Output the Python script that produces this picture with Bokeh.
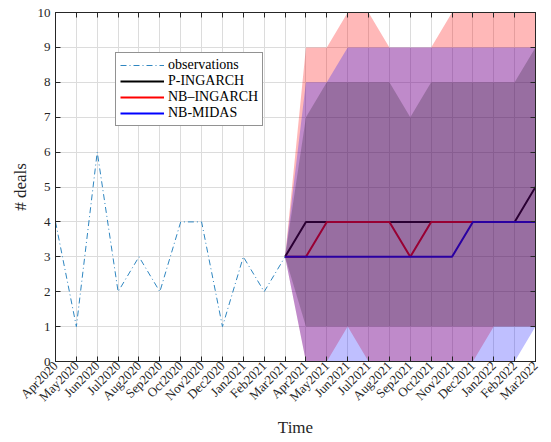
import math
from bokeh.plotting import figure
from bokeh.models import LinearAxis, FixedTicker, Legend, LegendItem, Range1d
from bokeh.embed import file_html
from bokeh.resources import INLINE

months = ["Apr2020", "May2020", "Jun2020", "Jul2020", "Aug2020", "Sep2020",
          "Oct2020", "Nov2020", "Dec2020", "Jan2021", "Feb2021", "Mar2021",
          "Apr2021", "May2021", "Jun2021", "Jul2021", "Aug2021", "Sep2021",
          "Oct2021", "Nov2021", "Dec2021", "Jan2022", "Feb2022", "Mar2022"]
y_ticks = [0, 1, 2, 3, 4, 5, 6, 7, 8, 9, 10]

observations = [4, 1, 6, 2, 3, 2, 4, 4, 1, 3, 2, 3]
forecast_start = 11  # index of Mar2021

p_ingarch = [3, 4, 4, 4, 4, 4, 4, 4, 4, 4, 4, 4, 5]
nb_ingarch = [3, 3, 4, 4, 4, 4, 3, 4, 4, 4, 4, 4, 4]
nb_midas = [3, 3, 3, 3, 3, 3, 3, 3, 3, 4, 4, 4, 4]

p_lo = [3, 1, 1, 1, 1, 1, 1, 1, 1, 1, 1, 1, 1]
p_hi = [3, 7, 8, 8, 8, 8, 7, 8, 8, 8, 8, 8, 9]
nb_lo = [3, 0, 0, 1, 0, 0, 0, 0, 0, 0, 1, 1, 1]
nb_hi = [3, 9, 9, 10, 10, 9, 9, 9, 10, 10, 10, 10, 10]
midas_lo = [3, 0, 0, 0, 0, 0, 0, 0, 0, 0, 0, 0, 1]
midas_hi = [3, 8, 8, 9, 9, 9, 9, 9, 9, 9, 9, 9, 9]

x_obs = list(range(len(observations)))
x_fc = list(range(forecast_start, forecast_start + len(p_ingarch)))

FONT = "Liberation Serif"
AX = "#262626"

p = figure(width=543, height=442, output_backend="svg", toolbar_location=None,
           x_range=Range1d(0, len(months) - 1), y_range=Range1d(0, 10),
           min_border_left=55, min_border_right=8, min_border_top=12,
           min_border_bottom=81, outline_line_color=AX)

# lines (drawn beneath the transparent bands)
r_obs = p.line(x_obs, observations, line_color="#2f86c0", line_width=1,
               line_dash="6 3 1 3")
r_p = p.line(x_fc, p_ingarch, line_color="black", line_width=2)
r_nb = p.line(x_fc, nb_ingarch, line_color="red", line_width=2)
r_md = p.line(x_fc, nb_midas, line_color="blue", line_width=2)

# bands
p.varea(x=x_fc, y1=nb_lo, y2=nb_hi, fill_color="red", fill_alpha=0.28)
p.varea(x=x_fc, y1=midas_lo, y2=midas_hi, fill_color="blue", fill_alpha=0.25)
p.varea(x=x_fc, y1=p_lo, y2=p_hi, fill_color="black", fill_alpha=0.2)

# axes
xt = FixedTicker(ticks=list(range(len(months))))
yt = FixedTicker(ticks=y_ticks)
p.xaxis.ticker = xt
p.yaxis.ticker = yt
p.xgrid.ticker = xt
p.ygrid.ticker = yt
p.xaxis.major_label_overrides = {i: m for i, m in enumerate(months)}
p.xaxis.major_label_orientation = math.pi / 4
p.xaxis.axis_label = "Time"
p.yaxis.axis_label = "# deals"

for ax in [p.xaxis[0], p.yaxis[0]]:
    ax.major_label_text_font = FONT
    ax.major_label_text_font_size = "13px"
    ax.major_label_text_color = AX
    ax.axis_label_text_font = FONT
    ax.axis_label_text_font_size = "17px"
    ax.axis_label_text_font_style = "normal"
    ax.axis_label_text_color = AX
    ax.axis_line_color = AX
    ax.major_tick_line_color = AX
    ax.major_tick_in = 5
    ax.major_tick_out = 0
    ax.minor_tick_line_color = None
p.xaxis.major_label_standoff = 2
p.xaxis.axis_label_standoff = 6
p.yaxis.major_label_standoff = 5

top = LinearAxis(ticker=xt, major_tick_in=5, major_tick_out=0,
                 minor_tick_line_color=None, axis_line_color=AX,
                 major_tick_line_color=AX, major_label_standoff=0,
                 major_label_overrides={i: "" for i in range(len(months))})
right = LinearAxis(ticker=yt, major_tick_in=5, major_tick_out=0,
                   minor_tick_line_color=None, axis_line_color=AX,
                   major_tick_line_color=AX, major_label_standoff=0,
                   major_label_overrides={v: "" for v in y_ticks})
p.add_layout(top, "above")
p.add_layout(right, "right")

p.grid.grid_line_color = "#dcdcdc"

legend = Legend(items=[LegendItem(label="observations", renderers=[r_obs]),
                       LegendItem(label="P-INGARCH", renderers=[r_p]),
                       LegendItem(label="NB\u2013INGARCH", renderers=[r_nb]),
                       LegendItem(label="NB-MIDAS", renderers=[r_md])],
                location=(60, 235), label_text_font=FONT,
                label_text_font_size="14px", label_text_color="black",
                label_height=12, glyph_height=12, glyph_width=44,
                label_standoff=4, spacing=0, padding=4, margin=0,
                border_line_color=AX, border_line_width=1,
                background_fill_alpha=1)
p.add_layout(legend)

open("out.html", "w").write(file_html(p, INLINE))
